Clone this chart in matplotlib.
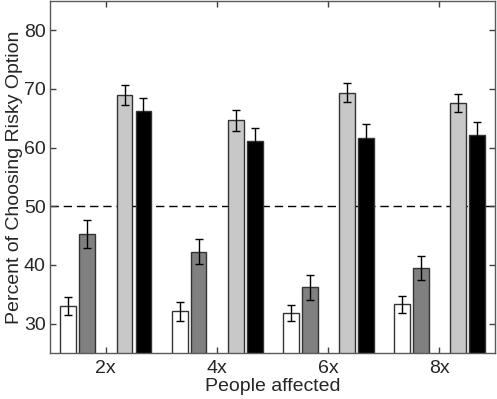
import numpy as np
import matplotlib.pyplot as plt

plt.rcParams['font.family'] = ['Liberation Sans', 'DejaVu Sans']

# data
groups = ["2x", "4x", "6x", "8x"]
white_vals = [33.0, 32.1, 31.8, 33.3]
white_err = [1.6, 1.6, 1.4, 1.5]
dark_vals = [45.3, 42.3, 36.2, 39.5]
dark_err = [2.4, 2.2, 2.1, 2.1]
light_vals = [69.0, 64.7, 69.4, 67.6]
light_err = [1.7, 1.8, 1.7, 1.6]
black_vals = [66.2, 61.1, 61.7, 62.2]
black_err = [2.2, 2.3, 2.3, 2.2]

series = [
    (white_vals, white_err, "white", -0.335),
    (dark_vals, dark_err, "#808080", -0.165),
    (light_vals, light_err, "#c8c8c8", 0.17),
    (black_vals, black_err, "black", 0.34),
]

fig = plt.figure(figsize=(4.97, 3.99), dpi=100)
ax = fig.add_axes([0.1006, 0.1153, 0.8954, 0.8822])

x = np.arange(1, len(groups) + 1)
width = 0.142
for vals, errs, color, off in series:
    ax.bar(x + off, vals, width, color=color, edgecolor="#333333", linewidth=1.0,
           zorder=2)
    ax.errorbar(x + off, vals, yerr=errs, fmt="none", ecolor="black",
                elinewidth=1.0, capsize=3, capthick=1.0, zorder=3)

ax.axhline(50, color="black", linestyle=(0, (6, 3.5)), linewidth=1.0, zorder=1)

ax.set_xlim(0.5, 4.5)
ax.set_ylim(25, 85)
ax.set_xticks(x)
ax.set_xticklabels(groups)
ax.set_yticks([30, 40, 50, 60, 70, 80])
ax.tick_params(direction="in", length=4, width=1, colors="#404040",
               labelcolor="#262626", labelsize=14, top=True, right=True, pad=3)
ax.tick_params(axis="x", pad=5)
for s in ax.spines.values():
    s.set_color("#5a5a5a")
    s.set_linewidth(1.0)

ax.set_xlabel("People affected", fontsize=14, color="#262626", labelpad=1)
ax.set_ylabel("Percent of Choosing Risky Option", fontsize=14, color="#262626", labelpad=1)

fig.savefig("out.png", dpi=100)
